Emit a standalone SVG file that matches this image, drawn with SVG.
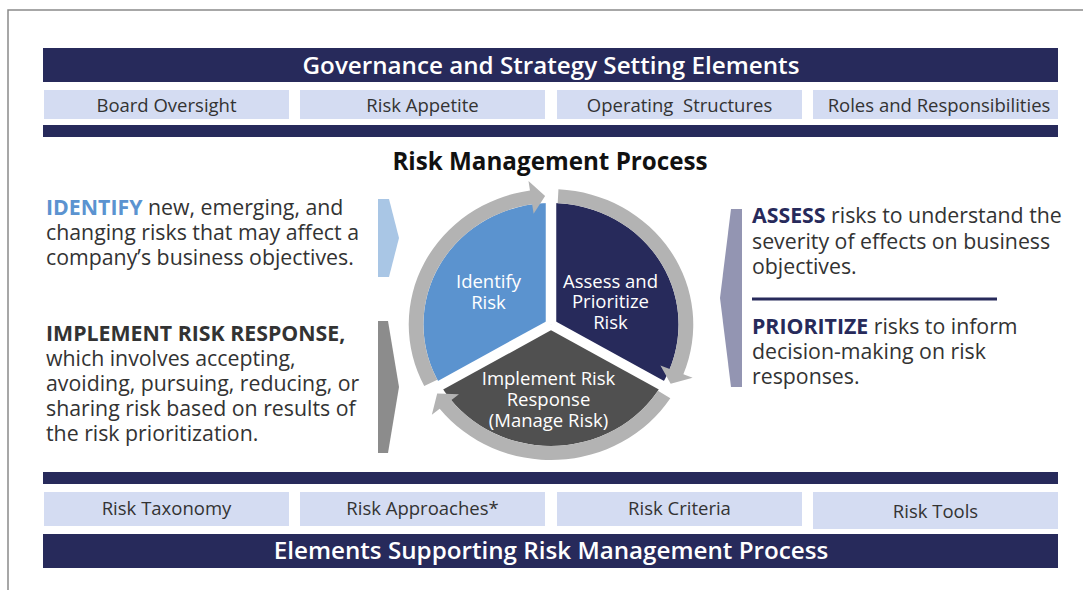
<svg xmlns="http://www.w3.org/2000/svg" width="1083" height="590" viewBox="0 0 1083 590">
  <style>
    .frame { stroke: #8a8a8a; stroke-width: 1.5; fill: none; }
    .band { fill: #272a5b; }
    .chip { fill: #d4dcf2; }
    .chip-text { font-family: "Open Sans", "Noto Sans", sans-serif; font-size: 18.5px; fill: #333333; text-anchor: middle; }
    .band-text { font-family: "Open Sans", "Noto Sans", sans-serif; font-size: 24.2px; font-weight: 600; fill: #ffffff; text-anchor: middle; }
    .heading { font-family: "Open Sans", "Noto Sans", sans-serif; font-size: 24.2px; font-weight: 700; fill: #111111; text-anchor: middle; }
    .body { font-family: "Open Sans", "Noto Sans", sans-serif; font-size: 21.3px; fill: #333333; }
    .kw-blue { font-weight: 700; fill: #5b93d0; }
    .kw-navy { font-weight: 700; fill: #272a5b; }
    .kw-gray { font-weight: 700; fill: #333333; }
    .seg-text { font-family: "Open Sans", "Noto Sans", sans-serif; font-size: 18.5px; fill: #ffffff; text-anchor: middle; }
    .ring { fill: #b3b3b3; }
  </style>

  <!-- outer frame -->
  <path class="frame" d="M8,590 V10 H1083"/>

  <!-- governance header -->
  <g id="governance">
    <rect class="band" x="43" y="48" width="1015" height="34"/>
    <text class="band-text" x="551" y="73.5">Governance and Strategy Setting Elements</text>
    <rect class="band" x="43" y="125" width="1015" height="12"/>
  </g>
  <g id="board-oversight">
    <rect class="chip" x="44" y="90" width="245" height="29"/>
    <text class="chip-text" x="166.5" y="112">Board Oversight</text>
  </g>
  <g id="risk-appetite">
    <rect class="chip" x="300" y="90" width="245" height="29"/>
    <text class="chip-text" x="422.5" y="112">Risk Appetite</text>
  </g>
  <g id="operating-structures">
    <rect class="chip" x="557" y="90" width="245" height="29"/>
    <text class="chip-text" x="679.5" y="112" xml:space="preserve">Operating  Structures</text>
  </g>
  <g id="roles-responsibilities">
    <rect class="chip" x="813" y="90" width="245" height="29"/>
    <text class="chip-text" x="939" y="112">Roles and Responsibilities</text>
  </g>

  <!-- process heading -->
  <text class="heading" x="550" y="170">Risk Management Process</text>

  <!-- side pointers -->
  <g id="identify-pointer">
    <polygon points="378,199 389,199 399,238 389,277 378,277" fill="#a9c6e5"/>
  </g>
  <g id="respond-pointer">
    <polygon points="378,321 388,321 399,387 388,453 378,453" fill="#8c8c8c"/>
  </g>
  <g id="assess-pointer">
    <polygon points="731,209 742,209 742,387 731,387 720,298" fill="#9395b2"/>
  </g>

  <!-- left descriptions -->
  <g id="identify-text">
    <text class="body" x="46" y="215"><tspan class="kw-blue">IDENTIFY</tspan> new, emerging, and</text>
    <text class="body" x="46" y="240">changing risks that may affect a</text>
    <text class="body" x="46" y="265">company’s business objectives.</text>
  </g>
  <g id="respond-text">
    <text class="body" x="46" y="341"><tspan class="kw-gray">IMPLEMENT RISK RESPONSE,</tspan></text>
    <text class="body" x="46" y="366">which involves accepting,</text>
    <text class="body" x="46" y="391">avoiding, pursuing, reducing, or</text>
    <text class="body" x="46" y="416">sharing risk based on results of</text>
    <text class="body" x="46" y="441">the risk prioritization.</text>
  </g>

  <!-- right descriptions -->
  <g id="assess-text">
    <text class="body" x="752" y="223"><tspan class="kw-navy">ASSESS</tspan> risks to understand the</text>
    <text class="body" x="752" y="249">severity of effects on business</text>
    <text class="body" x="752" y="274">objectives.</text>
    <line x1="752" y1="299" x2="997" y2="299" stroke="#272a5b" stroke-width="3"/>
    <text class="body" x="752" y="334"><tspan class="kw-navy">PRIORITIZE</tspan> risks to inform</text>
    <text class="body" x="752" y="359">decision-making on risk</text>
    <text class="body" x="752" y="384">responses.</text>
  </g>

  <!-- process cycle -->
  <g id="cycle" transform="translate(551,324.5) scale(1.05,1)">
    <path id="seg-identify" d="M0,0 L-105.22,60.75 A121.5,121.5 0 0 1 0,-121.5 Z" fill="#5b93cf"/>
    <path id="seg-assess" d="M0,0 L0,-121.5 A121.5,121.5 0 0 1 105.22,60.75 Z" fill="#272a5b"/>
    <path id="seg-respond" d="M0,0 L105.22,60.75 A121.5,121.5 0 0 1 -105.22,60.75 Z" fill="#505050"/>
    <g stroke="#ffffff" stroke-width="10">
      <line x1="0" y1="0" x2="0" y2="-124"/>
      <line x1="0" y1="0" x2="107.4" y2="62"/>
      <line x1="0" y1="0" x2="-107.4" y2="62"/>
    </g>
  </g>

  <!-- cycle arrows -->
  <g id="connectors" transform="translate(551,324.5) scale(1.05,1)">
    <path class="ring" d="M-120.73,61.52 A135.5,135.5 0 0 1 -20.03,-134.01 L-21.43,-143.41 L-5.61,-128.38 L-16.55,-110.77 L-17.96,-120.16 A121.5,121.5 0 0 0 -108.26,55.16 Z"/>
    <path class="ring" d="M7.09,-135.31 A135.5,135.5 0 0 1 126.07,49.66 L134.91,53.14 L113.98,59.33 L104.21,41.05 L113.05,44.53 A121.5,121.5 0 0 0 6.36,-121.33 Z"/>
    <path class="ring" d="M113.64,73.80 A135.5,135.5 0 0 1 -106.04,84.35 L-113.48,90.26 L-108.38,69.04 L-87.65,69.72 L-95.09,75.64 A121.5,121.5 0 0 0 101.90,66.17 Z"/>
  </g>

  <!-- cycle labels -->
  <g id="label-identify">
    <text class="seg-text" x="488.5" y="288">Identify</text>
    <text class="seg-text" x="488.5" y="309">Risk</text>
  </g>
  <g id="label-assess">
    <text class="seg-text" x="610.5" y="288">Assess and</text>
    <text class="seg-text" x="610.5" y="308">Prioritize</text>
    <text class="seg-text" x="610.5" y="328.5">Risk</text>
  </g>
  <g id="label-respond">
    <text class="seg-text" x="548.5" y="385">Implement Risk</text>
    <text class="seg-text" x="548.5" y="405.5">Response</text>
    <text class="seg-text" x="548.5" y="426.5">(Manage Risk)</text>
  </g>

  <!-- supporting elements footer -->
  <g id="supporting">
    <rect class="band" x="43" y="472" width="1015" height="12"/>
    <rect class="band" x="43" y="534" width="1015" height="34"/>
    <text class="band-text" x="551" y="558.5">Elements Supporting Risk Management Process</text>
  </g>
  <g id="risk-taxonomy">
    <rect class="chip" x="44" y="492" width="245" height="34"/>
    <text class="chip-text" x="166.5" y="515">Risk Taxonomy</text>
  </g>
  <g id="risk-approaches">
    <rect class="chip" x="300" y="492" width="245" height="34"/>
    <text class="chip-text" x="422.5" y="515">Risk Approaches*</text>
  </g>
  <g id="risk-criteria">
    <rect class="chip" x="557" y="492" width="245" height="34"/>
    <text class="chip-text" x="679.5" y="515">Risk Criteria</text>
  </g>
  <g id="risk-tools">
    <rect class="chip" x="813" y="492" width="245" height="37"/>
    <text class="chip-text" x="935.5" y="518">Risk Tools</text>
  </g>
</svg>
